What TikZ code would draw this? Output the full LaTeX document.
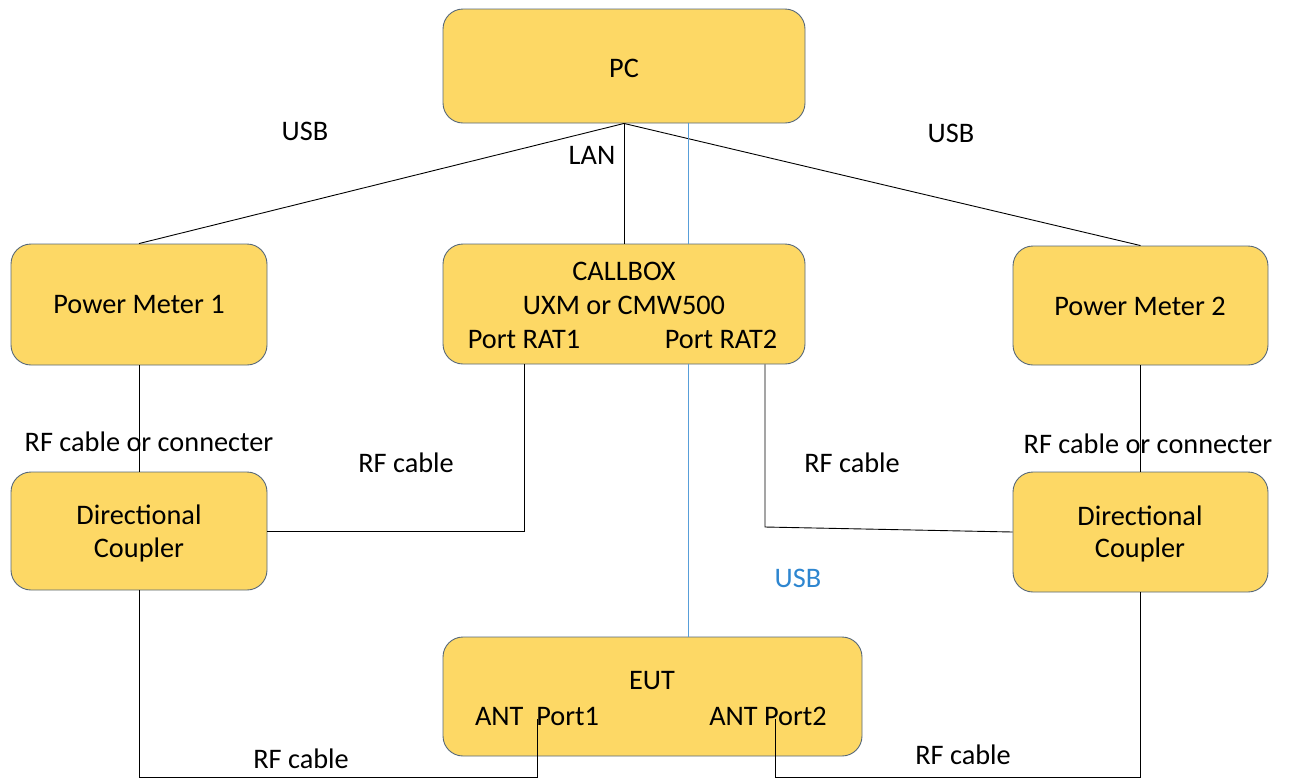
\documentclass[tikz,border=0pt]{standalone}
\usepackage{fontspec}
\setmainfont{Carlito}
\definecolor{boxfill}{HTML}{FDD865}
\definecolor{boxline}{HTML}{56687A}
\definecolor{usbblue}{HTML}{2E86D0}
\begin{document}
\begin{tikzpicture}[x=1pt,y=-1pt,
  box/.style={draw=boxline,fill=boxfill,line width=0.9pt,rounded corners=20pt,inner sep=0pt},
  lbl/.style={font=\fontsize{28.3}{33}\selectfont,inner sep=0pt,text=black},
  wire/.style={draw=black,line width=0.9pt},
  bluewire/.style={draw=usbblue!80,line width=0.9pt}]
\useasboundingbox (0,0) rectangle (1293,780);
% boxes
\node[box,minimum width=362pt,minimum height=114pt] (PC) at (624,66) {};
\node[box,minimum width=256pt,minimum height=121pt] (PM1) at (139,304.5) {};
\node[box,minimum width=362pt,minimum height=120pt] (CB) at (624,304) {};
\node[box,minimum width=255pt,minimum height=119pt] (PM2) at (1140.5,305.5) {};
\node[box,minimum width=256pt,minimum height=118pt] (DC1) at (139,531) {};
\node[box,minimum width=255pt,minimum height=120pt] (DC2) at (1140.5,532) {};
\node[box,minimum width=419pt,minimum height=119pt] (EUT) at (652.5,696.5) {};
% box texts
\node[lbl] (tPC) at (624,68) {PC};
\node[lbl] (tPM1) at (139,304) {Power Meter 1};
\node[lbl] (tPM2) at (1140,306) {Power Meter 2};
\node[lbl] (tCB1) at (624,271) {CALLBOX};
\node[lbl] (tCB2) at (624,305) {UXM or CMW500};
\node[lbl] (tCB3) at (524,339) {Port RAT1};
\node[lbl] (tCB4) at (721,339) {Port RAT2};
\node[lbl] (tDC1a) at (139,515) {Directional};
\node[lbl] (tDC1b) at (139,550) {Coupler};
\node[lbl] (tDC2a) at (1140,516) {Directional};
\node[lbl] (tDC2b) at (1140,550) {Coupler};
\node[lbl] (tEUT) at (652,681) {EUT};
\node[lbl] (tP1) at (537,716) {ANT\ \ Port1};
\node[lbl] (tP2) at (768,716) {ANT Port2};
% coordinates
\coordinate (usbx) at (688,0);
\coordinate (r1) at (524,0);
\coordinate (r2) at (765,0);
\coordinate (r2b) at (765,527);
\coordinate (p1b) at (537,777);
\coordinate (p1t) at (537,719);
\coordinate (p2b) at (775,777);
\coordinate (p2t) at (775,719);
% connectors
\draw[wire] (PC.south) -- (PM1.north);
\draw[wire] (PC.south) -- (CB.north);
\draw[wire] (PC.south) -- (PM2.north);
\draw[bluewire] (PC.south -| usbx) -- (CB.north -| usbx);
\draw[bluewire] (CB.south -| usbx) -- (EUT.north -| usbx);
\draw[wire] (PM1.south) -- (DC1.north);
\draw[wire] (PM2.south) -- (DC2.north);
\draw[wire] (CB.south -| r1) |- (DC1.east);
\draw[wire] (CB.south -| r2) -- (r2b) -- (DC2.west);
\draw[wire] (DC1.south) |- (p1b) -- (p1t);
\draw[wire] (DC2.south) |- (p2b) -- (p2t);
% connector labels
\node[lbl] (lUSB1) at (305,131) {USB};
\node[lbl] (lUSB2) at (951,133) {USB};
\node[lbl] (lLAN) at (592,155) {LAN};
\node[lbl,text=usbblue] (lUSB3) at (798,578) {USB};
\node[lbl] (lRF1) at (149,442) {RF cable or connecter};
\node[lbl] (lRF2) at (1148,444) {RF cable or connecter};
\node[lbl] (lRF3) at (406,463) {RF cable};
\node[lbl] (lRF4) at (852,463) {RF cable};
\node[lbl] (lRF5) at (301,759) {RF cable};
\node[lbl] (lRF6) at (963,755) {RF cable};
\end{tikzpicture}
\end{document}
